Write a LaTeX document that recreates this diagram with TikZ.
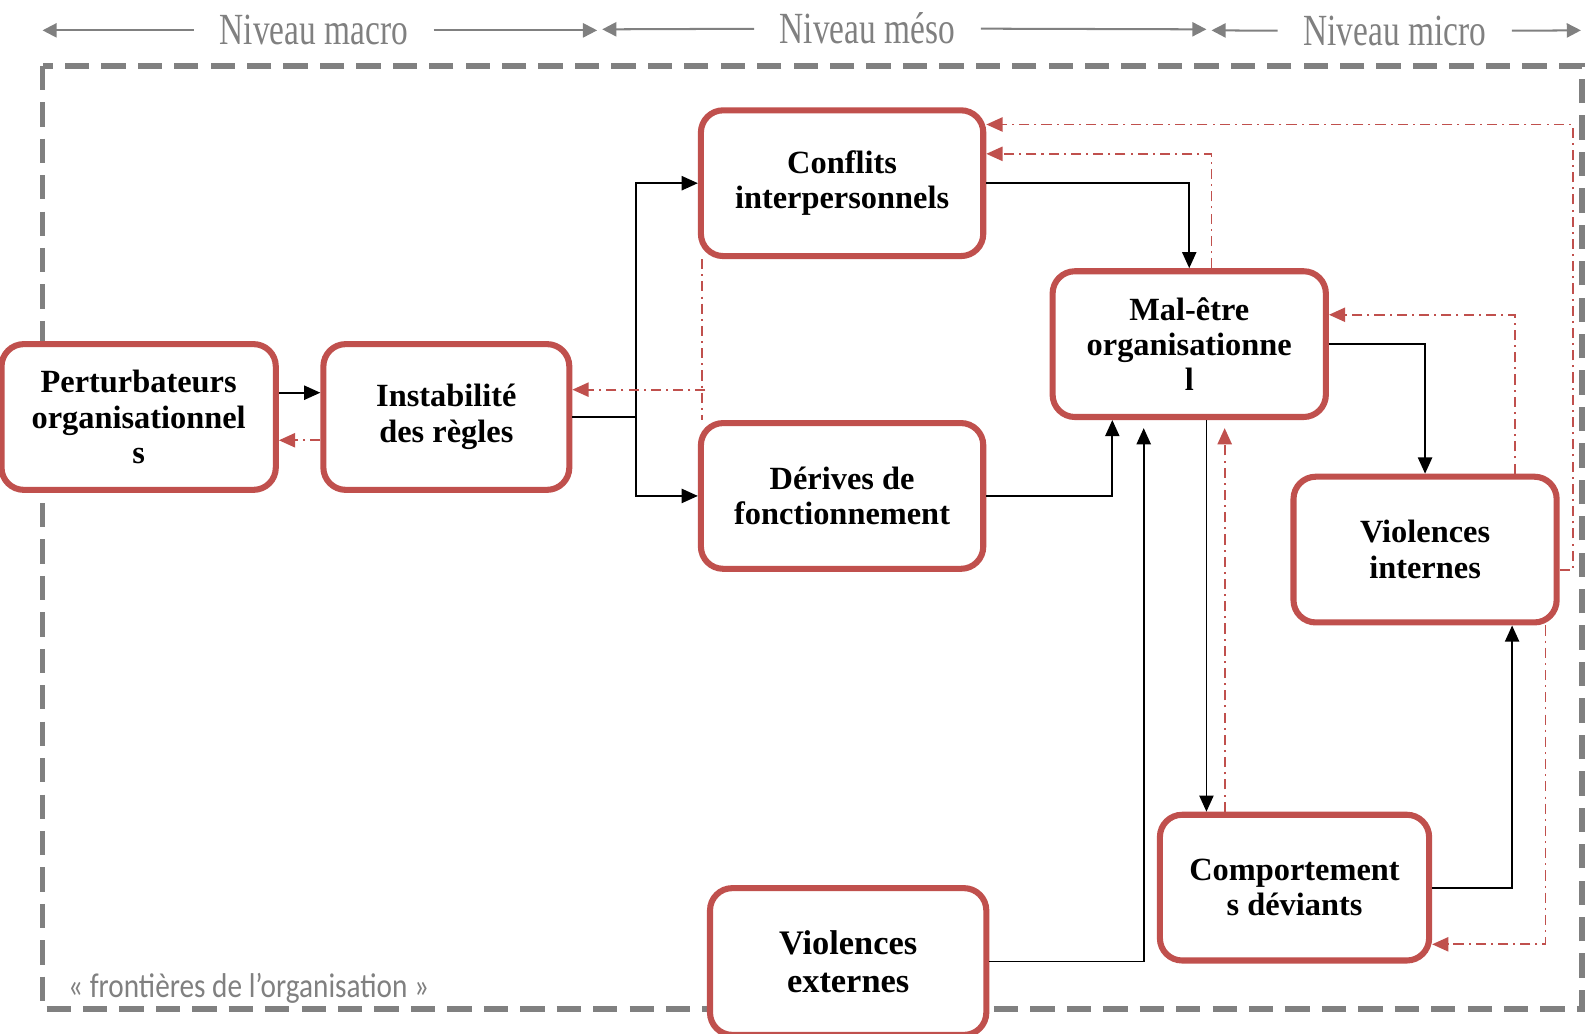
\documentclass[tikz,border=0pt]{standalone}
\usepackage{fontspec}
\setmainfont{Liberation Serif}
\newfontfamily\niveaufont[FakeStretch=0.75]{Liberation Serif}
\newfontfamily\bordfont[FakeStretch=0.85]{Carlito}
\usetikzlibrary{arrows.meta}
\definecolor{rouge}{HTML}{C0504D}
\definecolor{gris}{HTML}{808080}

\begin{document}
\begin{tikzpicture}[x=0.5pt, y=-0.5pt,
    bloc/.style = {draw=rouge, line width=3pt, rounded corners=11pt, fill=white, align=center, font=\bfseries\fontsize{16}{17.5}\selectfont, minimum height=72pt},
    fleche/.style = {-{Triangle[length=8pt,width=7pt]}, line width=0.9pt},
    retour/.style = {-{Triangle[length=8pt,width=7pt]}, rouge, line width=0.9pt, dash pattern=on 5pt off 2.5pt on 1pt off 2.5pt},
    niveau/.style = {font=\niveaufont\fontsize{22}{24}\selectfont, text=gris, inner xsep=12.5pt, inner ysep=0pt},
    fniveau/.style = {-{Triangle[length=7pt,width=7pt]}, gris, line width=1pt}]
        \useasboundingbox (0,0) rectangle (1568,1021);

        \draw[gris, line width=2.8pt, dash pattern=on 12pt off 6pt] (42,65) rectangle (1563,997);
        \node[font=\bordfont\fontsize{17}{19}\selectfont, text=gris, anchor=west, inner sep=0pt] (bord) at (67,976) {« frontières de l’organisation »};

        \node[niveau] (macro) at (310,30) {Niveau macro};
        \node[niveau] (meso) at (857,28) {Niveau méso};
        \node[niveau] (micro) at (1378,31) {Niveau micro};
        \coordinate (ma) at (42,30);
        \coordinate (mb) at (590,30);
        \coordinate (mc) at (595,29);
        \coordinate (md) at (1192,29);
        \coordinate (me) at (1197,30);
        \coordinate (mf) at (1562,30);
        \draw[fniveau] (macro) -- (ma);
        \draw[fniveau] (macro) -- (mb);
        \draw[fniveau] (meso) -- (mc);
        \draw[fniveau] (meso) -- (md);
        \draw[fniveau] (micro) -- (me);
        \draw[fniveau] (micro) -- (mf);

        \node[bloc, minimum width=135.5pt] (pert) at (137,412) {Perturbateurs\\organisationnel\\s};
        \node[bloc, minimum width=121.5pt] (inst) at (441,412) {Instabilité\\des règles};
        \node[bloc, minimum width=139.5pt] (conf) at (832,181) {Conflits\\interpersonnels};
        \node[bloc, minimum width=139.5pt] (der) at (832,490) {Dérives de\\fonctionnement};
        \node[bloc, minimum width=135pt] (mal) at (1175,340) {Mal-être\\organisationne\\l};
        \node[bloc, minimum width=130pt] (vint) at (1408,543) {Violences\\internes};
        \node[bloc, minimum width=133pt] (comp) at (1279,877) {Comportement\\s déviants};
        \node[bloc, minimum width=136.5pt, minimum height=72.5pt, font=\bfseries\fontsize{17}{19}\selectfont] (vext) at (838,950) {Violences\\externes};

        \coordinate (fork) at (628,412);
        \draw[fleche] ([yshift=12pt]pert.east) -- ([yshift=12pt]inst.west);
        \draw[fleche] (inst.east) -- (fork) |- (conf.west);
        \draw[fleche] (fork) |- (der.west);
        \draw[fleche] (conf.east) -| (mal.north);
        \draw[fleche] (der.east) -| ([xshift=-38pt]mal.south);
        \draw[fleche, shorten >=4pt] (vext.east) -| ([xshift=-22.5pt]mal.south);
        \draw[fleche] ([xshift=8.5pt]mal.south) -- ([xshift=8.5pt]mal.south |- comp.north);
        \draw[fleche] (mal.east) -| (vint.north);
        \draw[fleche] (comp.east) -| ([xshift=43pt]vint.south);

        \coordinate (rc) at (697,385);
        \draw[retour] ([yshift=-11.5pt]inst.west) -- ([yshift=-11.5pt]pert.east);
        \draw[retour, -] ([xshift=2pt]conf.south west) -- ([xshift=2pt]der.north west);
        \draw[retour] (rc) -- (rc -| inst.east);
        \draw[retour] ([xshift=11pt]mal.north) |- ([yshift=14.5pt]conf.east);
        \draw[retour] ([yshift=-10pt]vint.east) -- ++(13,0) |- ([yshift=29pt]conf.east);
        \draw[retour] ([xshift=44.5pt]vint.north) |- ([yshift=14.5pt]mal.east);
        \draw[retour] ([xshift=59.5pt]vint.south) |- ([yshift=-28pt]comp.east);
        \draw[retour, shorten >=4pt] ([xshift=-34.5pt]comp.north) -- ([xshift=-34.5pt]comp.north |- mal.south);
    \end{tikzpicture}
\end{document}
